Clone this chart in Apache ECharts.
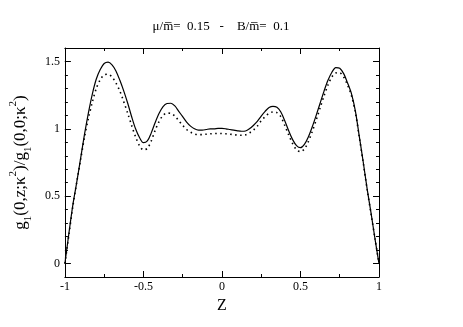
<!DOCTYPE html>
<html>
<head>
<meta charset="utf-8">
<script src="https://cdn.jsdelivr.net/npm/echarts@6/dist/echarts.min.js"></script>
<style>
  html, body { margin: 0; padding: 0; background: #fff; }
  #chart { width: 463px; height: 327px; }
</style>
</head>
<body>
<div id="chart"></div>
<script>
// z grid, step 0.025 from -1 to 1
var zValues = [
  -1.000, -0.975, -0.950, -0.925, -0.900, -0.875, -0.850, -0.825, -0.800, -0.775,
  -0.750, -0.725, -0.700, -0.675, -0.650, -0.625, -0.600, -0.575, -0.550, -0.525,
  -0.500, -0.475, -0.450, -0.425, -0.400, -0.375, -0.350, -0.325, -0.300, -0.275,
  -0.250, -0.225, -0.200, -0.175, -0.150, -0.125, -0.100, -0.075, -0.050, -0.025,
   0.000,  0.025,  0.050,  0.075,  0.100,  0.125,  0.150,  0.175,  0.200,  0.225,
   0.250,  0.275,  0.300,  0.325,  0.350,  0.375,  0.400,  0.425,  0.450,  0.475,
   0.500,  0.525,  0.550,  0.575,  0.600,  0.625,  0.650,  0.675,  0.700,  0.725,
   0.750,  0.775,  0.800,  0.825,  0.850,  0.875,  0.900,  0.925,  0.950,  0.975,
   1.000
];
// solid curve
var solidValues = [
  0, 0.22, 0.43, 0.60, 0.78, 0.96, 1.12, 1.26, 1.37, 1.44,
  1.485, 1.495, 1.475, 1.43, 1.36, 1.28, 1.19, 1.09, 1.00, 0.935,
  0.897, 0.91, 0.97, 1.047, 1.115, 1.165, 1.188, 1.19, 1.17, 1.13,
  1.09, 1.05, 1.02, 1.00, 0.99, 0.99, 0.995, 1.0, 1.0, 1.003,
  1.003, 1.0, 0.995, 0.99, 0.985, 0.982, 0.984, 1.0, 1.025, 1.055,
  1.095, 1.13, 1.158, 1.167, 1.16, 1.125, 1.06, 0.985, 0.92, 0.875,
  0.86, 0.885, 0.94, 1.015, 1.10, 1.19, 1.28, 1.36, 1.42, 1.455,
  1.45, 1.41, 1.34, 1.26, 1.13, 0.94, 0.75, 0.55, 0.37, 0.18,
  0
];
// dotted curve
var dottedValues = [
  0, 0.21, 0.42, 0.60, 0.77, 0.94, 1.08, 1.20, 1.30, 1.365,
  1.40, 1.405, 1.385, 1.34, 1.28, 1.20, 1.115, 1.025, 0.94, 0.875,
  0.843, 0.855, 0.91, 0.99, 1.055, 1.10, 1.117, 1.115, 1.095, 1.06,
  1.025, 0.995, 0.975, 0.962, 0.957, 0.957, 0.96, 0.963, 0.965, 0.966,
  0.965, 0.963, 0.96, 0.957, 0.953, 0.952, 0.955, 0.97, 0.99, 1.02,
  1.06, 1.09, 1.115, 1.125, 1.12, 1.09, 1.025, 0.955, 0.89, 0.845,
  0.83, 0.85, 0.905, 0.98, 1.065, 1.155, 1.245, 1.325, 1.385, 1.415,
  1.415, 1.385, 1.325, 1.245, 1.12, 0.935, 0.745, 0.545, 0.365, 0.18,
  0
];
var xLabelValues = [-1, -0.5, 0, 0.5, 1];
var yLabelValues = [0, 0.5, 1, 1.5];

var font = 'Liberation Serif';

function pairs(xs, ys) {
  return xs.map(function (x, i) { return [x, ys[i]]; });
}

function xAx(pos, major, withLabel) {
  return {
    type: 'value', position: pos, min: -1, max: 1, interval: 0.25,
    axisLine: { show: !major, onZero: false, lineStyle: { color: '#000', width: 1 } },
    axisTick: major
      ? { show: true, inside: true, length: 6, customValues: xLabelValues, lineStyle: { color: '#000' } }
      : { show: true, inside: true, length: 3, lineStyle: { color: '#000' } },
    axisLabel: withLabel
      ? { show: true, customValues: xLabelValues, color: '#000', fontFamily: font, fontSize: 12, margin: 4 }
      : { show: false },
    splitLine: { show: false },
    name: withLabel ? 'Z' : '',
    nameLocation: 'middle', nameGap: 16,
    nameTextStyle: { color: '#000', fontFamily: font, fontSize: 16 }
  };
}

function yAx(pos, major, withLabel) {
  return {
    type: 'value', position: pos, min: -0.1, max: 1.6, interval: 0.1,
    axisLine: { show: !major, onZero: false, lineStyle: { color: '#000', width: 1 } },
    axisTick: major
      ? { show: true, inside: true, length: 6, customValues: yLabelValues, lineStyle: { color: '#000' } }
      : { show: true, inside: true, length: 3, lineStyle: { color: '#000' } },
    axisLabel: withLabel
      ? { show: true, customValues: yLabelValues, color: '#000', fontFamily: font, fontSize: 12, margin: 5 }
      : { show: false },
    splitLine: { show: false },
    name: withLabel ? '{n|g}{s|1}{n|(0,z;\u03ba}{p|2}{n|)/g}{s|1}{n|(0,0;\u03ba}{p|2}{n|)}' : '',
    nameLocation: 'middle', nameGap: 30, nameRotate: 90,
    nameTextStyle: {
      color: '#000', fontFamily: font,
      rich: {
        n: { fontFamily: font, fontSize: 17, color: '#000', lineHeight: 26, verticalAlign: 'middle' },
        s: { fontFamily: font, fontSize: 11, color: '#000', lineHeight: 10, verticalAlign: 'bottom' },
        p: { fontFamily: font, fontSize: 11, color: '#000', lineHeight: 10, verticalAlign: 'top' }
      }
    }
  };
}

var chart = echarts.init(document.getElementById('chart'));
chart.setOption({
  animation: false,
  backgroundColor: '#fff',
  title: {
    text: '\u03bc/m\u0305=  0.15   -    B/m\u0305=  0.1',
    left: 216, top: 15, textAlign: 'center',
    textStyle: { fontFamily: font, fontSize: 13, fontWeight: 'normal', color: '#000' }
  },
  grid: { left: 53, right: 84, top: 48, bottom: 50 },
  xAxis: [
    xAx('bottom', false, true),
    xAx('bottom', true, false),
    xAx('top', false, false),
    xAx('top', true, false)
  ],
  yAxis: [
    yAx('left', false, true),
    yAx('left', true, false),
    yAx('right', false, false),
    yAx('right', true, false)
  ],
  series: [
    {
      type: 'line', name: 'solid', data: pairs(zValues, solidValues),
      smooth: 0.3, showSymbol: false,
      lineStyle: { color: '#000', width: 1.2 }
    },
    {
      type: 'line', name: 'dotted', data: pairs(zValues, dottedValues),
      smooth: 0.3, showSymbol: false,
      lineStyle: { color: '#000', width: 1.6, type: [1.5, 3.5] }
    }
  ]
});
</script>
</body>
</html>
